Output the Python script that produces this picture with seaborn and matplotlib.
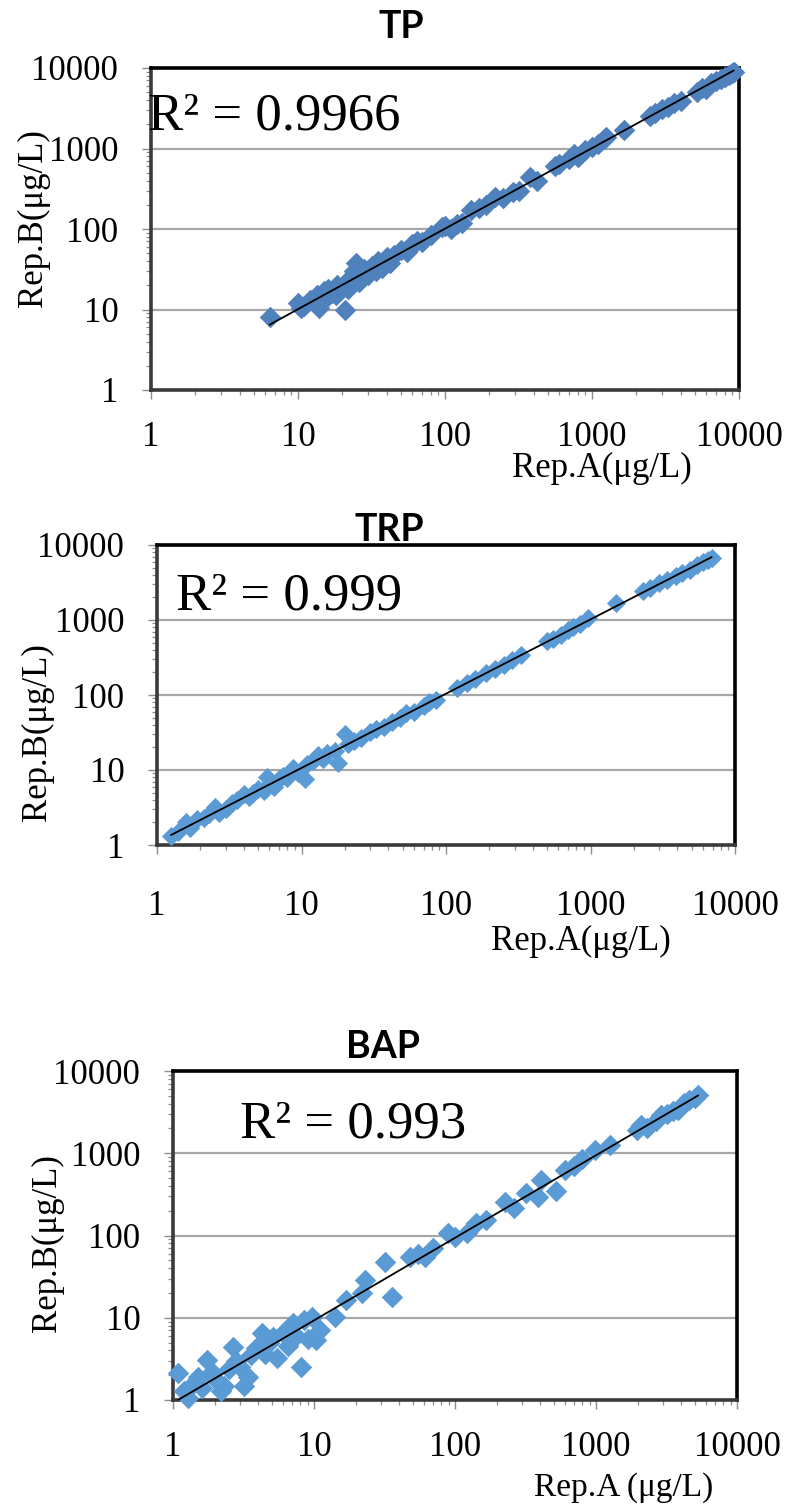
import numpy as np
import pandas as pd
import matplotlib
matplotlib.use("Agg")
import matplotlib.pyplot as plt
import seaborn as sns
from matplotlib.ticker import LogLocator, NullFormatter, FixedLocator, FixedFormatter

# ---------------- data ----------------
tp_a = [6.4, 10, 10.5, 11, 12, 13, 13.5, 14, 15, 15.5, 16, 17, 18, 18.5, 19, 20, 21, 21.5, 22, 23,
        24, 25, 26, 27, 28, 30, 32, 34, 35, 37, 40, 42, 45, 50, 55, 60, 65, 70, 80, 95,
        100, 110, 120, 130, 150, 170, 190, 220, 250, 290, 320, 380, 420, 560, 600, 700, 750, 800, 900, 1000,
        1100, 1200, 1250, 1650, 2500, 2700, 3000, 3300, 3600, 4000, 5200, 5600, 6000, 6500, 7000, 7500, 8000, 8500, 9000, 9200]
tp_b = [8, 12, 10.5, 11, 13, 12, 15, 10.5, 17, 14, 18, 16, 15, 20, 17, 19, 10, 22, 18, 25,
        30, 38, 22, 28, 32, 27, 35, 30, 40, 33, 45, 38, 48, 55, 52, 65, 70, 68, 85, 105,
        110, 100, 115, 120, 170, 180, 200, 250, 240, 290, 300, 440, 400, 600, 650, 750, 850, 780, 950, 1050,
        1150, 1300, 1400, 1700, 2500, 2800, 3100, 3300, 3700, 3900, 5000, 5600, 5500, 6500, 6800, 7300, 7800, 8200, 8600, 9000]

trp_a = [1.25, 1.4, 1.6, 1.7, 1.9, 2.1, 2.3, 2.5, 2.7, 3.0, 3.3, 3.6, 4.0, 4.3, 4.6, 5.0, 5.5, 5.8, 6.0, 6.5,
         7.0, 7.5, 8.0, 8.7, 9.5, 10.5, 11, 12, 13, 14, 15, 17, 18, 20, 21, 23, 26, 30, 33, 37,
         42, 48, 53, 60, 70, 76, 85, 120, 140, 160, 188, 220, 250, 285, 330, 500, 550, 620, 700, 760,
         850, 960, 1500, 2300, 2600, 3000, 3400, 3900, 4300, 4900, 5500, 6000, 6500, 6900]
trp_b = [1.3, 1.5, 2.0, 1.7, 2.2, 2.3, 2.6, 3.2, 2.7, 3.0, 3.6, 4.0, 4.8, 4.3, 5.0, 5.5, 5.2, 8.0, 6.5, 6.0,
         7.5, 8.2, 7.8, 10.5, 9.0, 7.5, 12, 13, 16, 14, 17, 18, 12.5, 30, 22, 24, 27, 32, 35, 38,
         44, 50, 57, 60, 72, 80, 85, 124, 145, 165, 196, 225, 255, 292, 340, 520, 560, 640, 730, 800,
         880, 1060, 1700, 2450, 2700, 3100, 3400, 3900, 4200, 4600, 5400, 5900, 6300, 6800]

bap_a = [1.08, 1.2, 1.28, 1.4, 1.5, 1.6, 1.74, 1.9, 2.0, 2.2, 2.3, 2.5, 2.66, 2.8, 3.0, 3.2, 3.4, 3.6, 3.9, 4.3,
         4.5, 4.8, 5.1, 5.5, 6.0, 6.5, 7.1, 7.5, 8.1, 8.5, 9.0, 9.7, 10.3, 11, 14, 16.8, 22, 23, 32, 36,
         48, 55, 61, 70, 89, 100, 121, 140, 166, 225, 260, 320, 390, 410, 520, 600, 700, 800, 980, 1250,
         1960, 2100, 2300, 2650, 2900, 3200, 3500, 3800, 4200, 4600, 5000, 5300]
bap_b = [2.1, 1.3, 1.05, 1.6, 1.9, 1.4, 3.1, 2.2, 1.8, 1.3, 1.5, 2.4, 4.4, 3.0, 2.5, 1.5, 1.9, 3.5, 4.3, 6.5,
         3.6, 5.0, 5.8, 3.2, 6.6, 4.5, 8.6, 6.0, 2.5, 9.5, 5.5, 10.2, 5.4, 7.0, 10.2, 16.4, 20, 29, 48, 18,
         55, 60, 55, 70, 107, 95, 107, 140, 155, 255, 215, 330, 290, 470, 350, 630, 700, 850, 1100, 1250,
         1900, 2200, 2000, 2500, 2900, 3000, 3300, 3400, 4100, 4500, 4700, 5100]

titles = ["TP", "TRP", "BAP"]
r2_labels = ["R² = 0.9966", "R² = 0.999", "R² = 0.993"]
x_titles = ["Rep.A(μg/L)", "Rep.A(μg/L)", "Rep.A (μg/L)"]
y_title = "Rep.B(μg/L)"
tick_values = [1, 10, 100, 1000, 10000]
tick_labels = ["1", "10", "100", "1000", "10000"]

# ---------------- style ----------------
sns.set_theme(style="white")
plt.rcParams["font.family"] = ["Liberation Serif", "DejaVu Serif"]

W, H = 788, 1504
fig = plt.figure(figsize=(W / 100, H / 100), dpi=100)


def fx(px):
    return px / W


def fy(py):
    return 1 - py / H


layout = [
    dict(box=(151, 68, 739, 390), color="#4F81BD", s=120, title_xy=(401, 27), r2_xy=(148, 130),
         ylab_xy=(33, 218), xlab_xy=(602, 468), xlab_va="center", xlab_fs=25, xpad=15.5),
    dict(box=(157, 545, 735, 845), color="#5B9BD5", s=95, title_xy=(389, 530), r2_xy=(176, 610),
         ylab_xy=(37, 732), xlab_xy=(581, 941), xlab_va="center", xlab_fs=25, xpad=26),
    dict(box=(173, 1071, 737, 1400), color="#5B9BD5", s=120, title_xy=(383, 1047), r2_xy=(240, 1138),
         ylab_xy=(47, 1243), xlab_xy=(624, 1503), xlab_va="bottom", xlab_fs=24, xpad=16),
]
datasets = [(tp_a, tp_b), (trp_a, trp_b), (bap_a, bap_b)]

for i, (lay, (xa, yb)) in enumerate(zip(layout, datasets)):
    x0, y0, x1, y1 = lay["box"]
    ax = fig.add_axes([fx(x0), fy(y1), fx(x1) - fx(x0), (y1 - y0) / H])
    df = pd.DataFrame({"A": xa, "B": yb})
    ax.set_xscale("log")
    ax.set_yscale("log")
    ax.set_xlim(1, 10000)
    ax.set_ylim(1, 10000)

    ax.set_axisbelow(True)
    ax.yaxis.grid(True, which="major", color="#A6A6A6", lw=1.6)
    ax.xaxis.grid(False)

    sns.scatterplot(data=df, x="A", y="B", marker="D", s=lay["s"], color=lay["color"],
                    linewidth=0, ax=ax, zorder=3, clip_on=False)

    # power trendline (least squares in log-log space, as a spreadsheet does)
    lx, ly = np.log10(df["A"]), np.log10(df["B"])
    b, a = np.polyfit(lx, ly, 1)
    xs = np.array([df["A"].min(), df["A"].max()])
    ax.plot(xs, 10 ** (a + b * np.log10(xs)), color="black", lw=1.3, zorder=4)

    ax.xaxis.set_major_locator(FixedLocator(tick_values))
    ax.xaxis.set_major_formatter(FixedFormatter(tick_labels))
    ax.yaxis.set_major_locator(FixedLocator(tick_values))
    ax.yaxis.set_major_formatter(FixedFormatter(tick_labels))
    ax.xaxis.set_minor_locator(LogLocator(base=10, subs=np.arange(2, 10), numticks=20))
    ax.yaxis.set_minor_locator(LogLocator(base=10, subs=np.arange(2, 10), numticks=20))
    ax.xaxis.set_minor_formatter(NullFormatter())
    ax.yaxis.set_minor_formatter(NullFormatter())

    ax.tick_params(axis="both", which="major", direction="out", length=6.5, width=1.0,
                   color="#8C8C8C", labelsize=25, labelcolor="black",
                   bottom=True, left=True, top=False, right=False)
    ax.tick_params(axis="both", which="minor", direction="out", length=3.8, width=0.9,
                   color="#8C8C8C", bottom=True, left=True, top=False, right=False)
    ax.tick_params(axis="x", which="major", pad=lay["xpad"])
    ax.tick_params(axis="y", which="major", pad=17)

    for side in ["top", "right"]:
        ax.spines[side].set_color("black")
        ax.spines[side].set_linewidth(2.6)
        ax.spines[side].set_visible(True)
    for side in ["left", "bottom"]:
        ax.spines[side].set_color("#3A3A3A")
        ax.spines[side].set_linewidth(2.6)
        ax.spines[side].set_visible(True)
    ax.set_xlabel("")
    ax.set_ylabel("")

    # texts
    fig.text(fx(lay["title_xy"][0]), fy(lay["title_xy"][1]), titles[i], ha="center", va="center",
             fontsize=27, fontweight="bold", family=["Lato", "DejaVu Sans"], color="black")
    fig.text(fx(lay["r2_xy"][0]), fy(lay["r2_xy"][1]), r2_labels[i], ha="left", va="baseline",
             fontsize=38, color="black", zorder=5)
    fig.text(fx(lay["ylab_xy"][0]), fy(lay["ylab_xy"][1]), y_title, ha="center", va="center",
             rotation=90, fontsize=25, color="black")
    fig.text(fx(lay["xlab_xy"][0]), fy(lay["xlab_xy"][1]), x_titles[i], ha="center",
             va=lay["xlab_va"], fontsize=lay["xlab_fs"], color="black")

fig.savefig("out.png", dpi=100, facecolor="white")
